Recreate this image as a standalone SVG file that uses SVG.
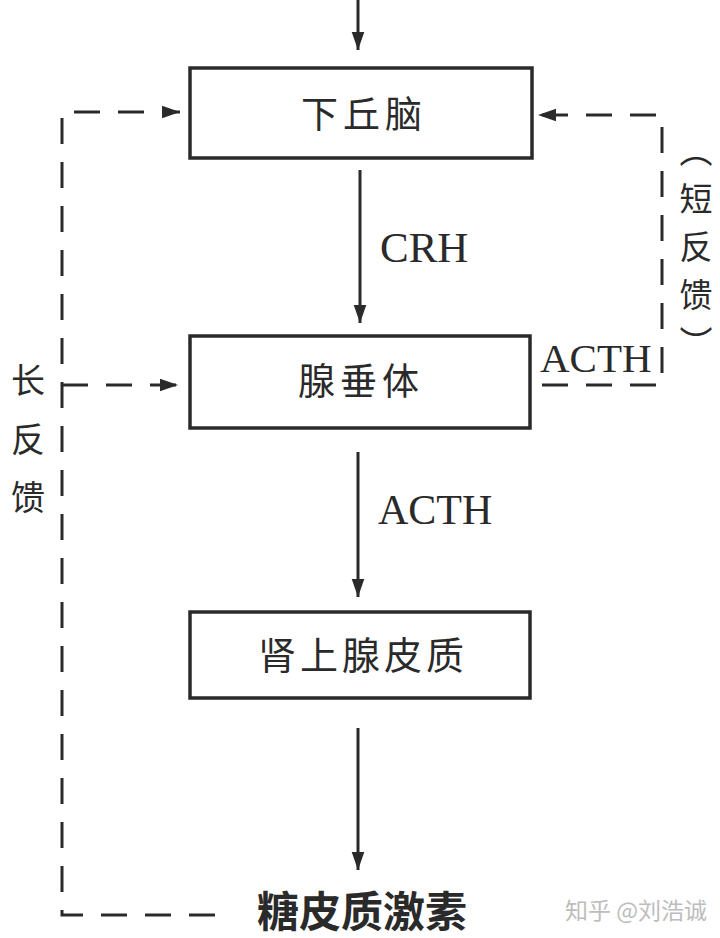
<svg xmlns="http://www.w3.org/2000/svg" width="720" height="938" viewBox="0 0 720 938">
<defs>
<style>
.box{fill:#fff;stroke:#2a2a2a;stroke-width:3.5}
.cn{font-family:"Noto Sans CJK SC","Noto Sans CJK JP",sans-serif;fill:#2a2a2a}
.lat{font-family:"Liberation Serif",serif;fill:#2a2a2a}
.solid{stroke:#2a2a2a;stroke-width:3;fill:none}
.dash{stroke:#2a2a2a;stroke-width:3;fill:none;stroke-dasharray:26 18}
</style>
<marker id="ah" viewBox="0 0 10 10" refX="10" refY="5" markerWidth="6" markerHeight="6" orient="auto" markerUnits="strokeWidth">
<path d="M0,1.5 L10,5 L0,8.5 Z" fill="#2a2a2a"/>
</marker>
</defs>
<rect width="720" height="938" fill="#fff"/>
<g id="connectors">
<line class="solid" x1="358" y1="0" x2="358" y2="50" marker-end="url(#ah)"/>
<line class="solid" x1="360" y1="170" x2="360" y2="323" marker-end="url(#ah)"/>
<line class="solid" x1="358" y1="452" x2="358" y2="597" marker-end="url(#ah)"/>
<line class="solid" x1="358" y1="728" x2="358" y2="870" marker-end="url(#ah)"/>
<path class="dash" d="M215,915 L62,915 L62,112 L180,112" marker-end="url(#ah)"/>
<path class="dash" d="M62,385 L178,385" marker-end="url(#ah)"/>
<path class="dash" d="M542,385 L662,385 L662,115 L538,115" marker-end="url(#ah)"/>
</g>
<g id="hypothalamus">
<rect class="box" x="190" y="68" width="342" height="90"/>
<text class="cn" x="364" y="128" font-size="37" letter-spacing="5" text-anchor="middle">下丘脑</text>
</g>
<g id="pituitary">
<rect class="box" x="190" y="336" width="340" height="92"/>
<text class="cn" x="361" y="395" font-size="37" letter-spacing="5" text-anchor="middle">腺垂体</text>
</g>
<g id="adrenal">
<rect class="box" x="190" y="612" width="340" height="86"/>
<text class="cn" x="363" y="669" font-size="38" letter-spacing="4" text-anchor="middle">肾上腺皮质</text>
</g>
<g id="labels">
<text class="lat" x="380" y="262" font-size="43">CRH</text>
<text class="lat" x="378" y="524" font-size="42">ACTH</text>
<text class="lat" x="540" y="372" font-size="41">ACTH</text>
<text class="cn" x="362" y="927" font-size="42" font-weight="bold" text-anchor="middle">糖皮质激素</text>
<text class="cn" x="28" y="393" font-size="34" text-anchor="middle">长</text>
<text class="cn" x="28" y="452" font-size="34" text-anchor="middle">反</text>
<text class="cn" x="28" y="510" font-size="34" text-anchor="middle">馈</text>
<text class="cn" x="696" y="134" font-size="33" letter-spacing="15" writing-mode="vertical-rl">（短反馈）</text>
<text class="cn" x="636" y="919" font-size="23" style="fill:#bdbdbd" text-anchor="middle">知乎 @刘浩诚</text>
</g>
</svg>
